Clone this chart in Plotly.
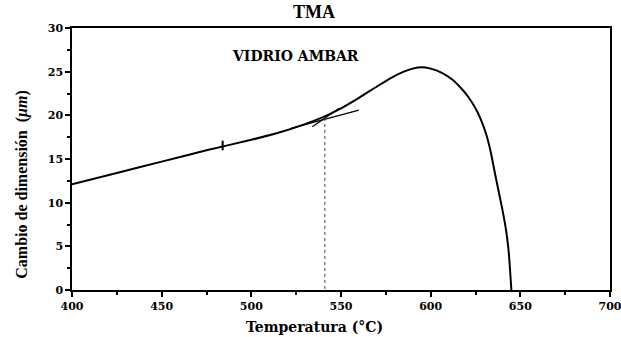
import plotly.graph_objects as go

# TMA trace of amber glass: dimension change vs temperature
temp_c = [400, 425, 450, 475, 500, 515, 530, 540, 550, 560, 570, 578, 585, 590, 595, 600,
          606, 612, 617, 621, 625, 628, 631, 633.5, 636, 638, 640, 642, 643.5, 645]
delta_um = [12.1, 13.4, 14.7, 16.0, 17.2, 18.0, 19.0, 19.8, 20.8, 22.0, 23.3, 24.3, 25.0, 25.35, 25.5, 25.35,
            24.9, 24.1, 23.1, 22.1, 20.8, 19.5, 17.8, 15.8, 13.2, 11.2, 9.2, 6.9, 4.4, 0.0]

# tangent construction around the transition point
tan_low_x = [522, 560]
tan_low_y = [18.5, 20.6]
tan_high_x = [534, 549]
tan_high_y = [18.7, 20.8]
tg_x = [541, 541]
tg_y = [19.7, 0]
mark_x = [484, 484]
mark_y = [16.0, 17.1]

x_ticks = [400, 450, 500, 550, 600, 650, 700]
y_ticks = [0, 5, 10, 15, 20, 25, 30]

serif = "Liberation Serif"
wide_serif = "DejaVu Serif"

fig = go.Figure()
fig.add_trace(go.Scatter(x=temp_c, y=delta_um, mode="lines",
                         line=dict(color="black", width=2, shape="spline", smoothing=0.6)))
fig.add_trace(go.Scatter(x=tan_low_x, y=tan_low_y, mode="lines",
                         line=dict(color="black", width=1.2)))
fig.add_trace(go.Scatter(x=tan_high_x, y=tan_high_y, mode="lines",
                         line=dict(color="black", width=1.2)))
fig.add_trace(go.Scatter(x=tg_x, y=tg_y, mode="lines",
                         line=dict(color="#444444", width=1, dash="dot")))
fig.add_trace(go.Scatter(x=mark_x, y=mark_y, mode="lines",
                         line=dict(color="black", width=2)))

axis_common = dict(
    showgrid=False, zeroline=False, showline=True, linecolor="black", linewidth=1.5,
    mirror=True, ticks="outside", ticklen=5, tickwidth=1.5, tickcolor="black",
    ticklabeloverflow="allow",
    tickfont=dict(family=wide_serif, size=11, color="black", weight="bold"),
)
fig.update_xaxes(range=[400, 700], tickvals=x_ticks,
                 minor=dict(dtick=25, ticks="outside", ticklen=3, tickcolor="black"),
                 **axis_common)
fig.update_yaxes(range=[0, 30], tickvals=y_ticks,
                 minor=dict(dtick=2.5, ticks="outside", ticklen=3, tickcolor="black"),
                 **axis_common)

fig.add_annotation(text="TMA", xref="paper", yref="paper", x=0.45, y=1.062,
                   xanchor="center", yanchor="middle", showarrow=False,
                   font=dict(family=serif, size=18, color="black", weight="bold"))
fig.add_annotation(text="VIDRIO AMBAR", xref="paper", yref="paper", x=0.415, y=0.893,
                   xanchor="center", yanchor="middle", showarrow=False,
                   font=dict(family=wide_serif, size=14, color="black", weight="bold"))
fig.add_annotation(text="Temperatura (°C)", xref="paper", yref="paper", x=0.45, y=-0.141,
                   xanchor="center", yanchor="middle", showarrow=False,
                   font=dict(family=wide_serif, size=14, color="black", weight="bold"))
fig.add_annotation(text="Cambio de dimensión  (<i>μm</i>)", xref="paper", yref="paper",
                   x=-0.092, y=0.40, textangle=-90,
                   xanchor="center", yanchor="middle", showarrow=False,
                   font=dict(family=serif, size=16, color="black", weight="bold"))

fig.update_layout(
    width=621, height=337, showlegend=False,
    margin=dict(l=72, r=11, t=28, b=47, autoexpand=False),
    paper_bgcolor="white", plot_bgcolor="white",
)
fig.write_html("out.html")
